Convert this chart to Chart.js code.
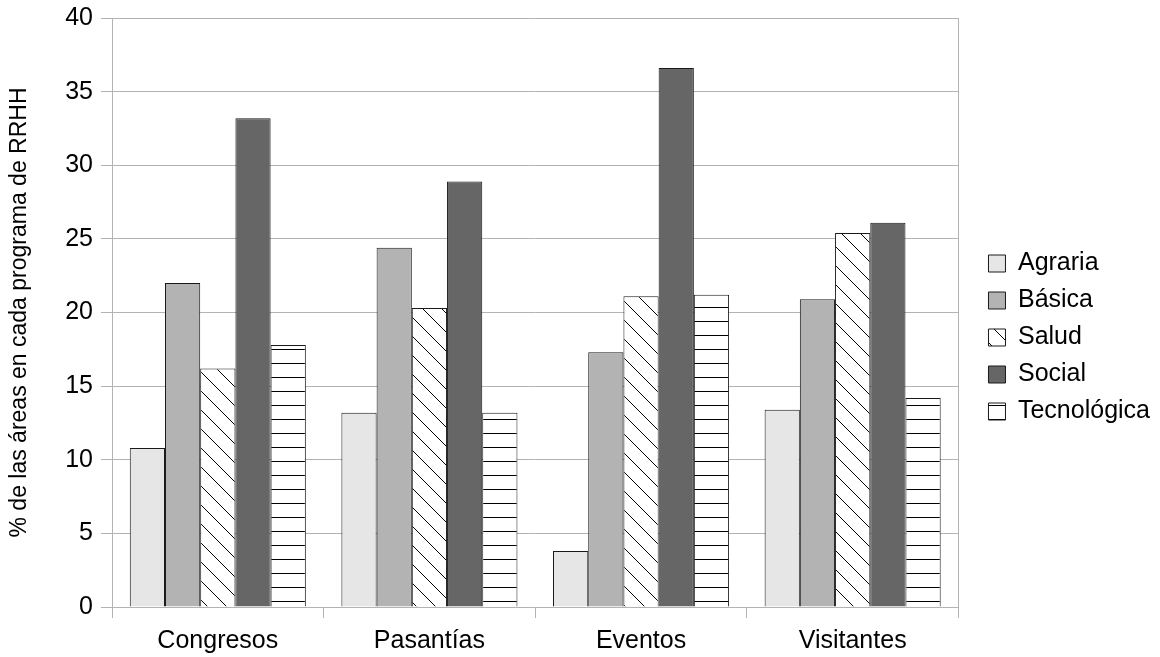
<!DOCTYPE html>
<html>
<head>
<meta charset="utf-8">
<script src="https://cdn.jsdelivr.net/npm/chart.js@4"></script>
<style>
  html, body { margin: 0; padding: 0; background: #fff; }
  #wrap { width: 1160px; height: 657px; }
</style>
</head>
<body>
<div id="wrap"><canvas id="chart" width="1160" height="657"></canvas></div>
<script>
const categories = ["Congresos", "Pasantías", "Eventos", "Visitantes"];
const agraria     = [10.8, 13.2, 3.8, 13.4];
const basica      = [22.0, 24.4, 17.3, 20.9];
const salud       = [16.2, 20.3, 21.1, 25.4];
const social      = [33.2, 28.9, 36.6, 26.1];
const tecnologica = [17.8, 13.2, 21.2, 14.2];
const yTicks = [0, 5, 10, 15, 20, 25, 30, 35, 40];

const FONT = "'Liberation Sans', Arial, sans-serif";
const GRID = "#b3b3b3";

// hatch fills like the LibreOffice ones
function diagHatch() {
  const s = 19, c = document.createElement("canvas");
  c.width = s; c.height = s;
  const g = c.getContext("2d");
  g.fillStyle = "#fff"; g.fillRect(0, 0, s, s);
  g.strokeStyle = "#000"; g.lineWidth = 1;
  g.beginPath();
  g.moveTo(-1, -1); g.lineTo(s + 1, s + 1);
  g.moveTo(-s - 1, -1); g.lineTo(1, s + 1);
  g.moveTo(s - 1, -1 - s); g.lineTo(2 * s + 1, s + 1);
  g.stroke();
  return g.createPattern(c, "repeat");
}
function horizHatch() {
  const s = 14, c = document.createElement("canvas");
  c.width = s; c.height = s;
  const g = c.getContext("2d");
  g.fillStyle = "#fff"; g.fillRect(0, 0, s, s);
  g.strokeStyle = "#000"; g.lineWidth = 1;
  g.beginPath(); g.moveTo(0, s - 0.5); g.lineTo(s, s - 0.5); g.stroke();
  return g.createPattern(c, "repeat");
}

const bar = (label, data, fill) => ({
  label, data, backgroundColor: fill, borderColor: "#1a1a1a", borderWidth: 1,
  categoryPercentage: 0.832, barPercentage: 1,
});

new Chart(document.getElementById("chart"), {
  type: "bar",
  data: {
    labels: categories,
    datasets: [
      bar("Agraria", agraria, "#e6e6e6"),
      bar("Básica", basica, "#b3b3b3"),
      bar("Salud", salud, diagHatch()),
      bar("Social", social, "#666666"),
      bar("Tecnológica", tecnologica, horizHatch()),
    ],
  },
  options: {
    responsive: false, animation: false,
    layout: { padding: { top: 18, right: 0, bottom: 0, left: 0 } },
    plugins: {
      tooltip: { enabled: false },
      legend: {
        position: "right", align: "center",
        labels: { font: { family: FONT, size: 25 }, color: "#000", boxWidth: 17, boxHeight: 17, padding: 12 },
      },
    },
    scales: {
      x: {
        grid: { display: true, drawOnChartArea: false, drawTicks: true, tickLength: 11, color: GRID, offset: true },
        border: { color: GRID },
        ticks: { font: { family: FONT, size: 25 }, color: "#000", padding: 8 },
        afterFit: s => { s.height = 50; s.paddingLeft = 0; s.paddingRight = 0; },
      },
      y: {
        min: 0, max: 40,
        afterBuildTicks: s => { s.ticks = yTicks.map(v => ({ value: v })); },
        grid: { color: GRID, tickLength: 11 },
        border: { color: GRID },
        ticks: { font: { family: FONT, size: 25 }, color: "#000", padding: 8 },
        title: { display: true, text: "% de las áreas en cada programa de RRHH",
                 font: { family: FONT, size: 23 }, color: "#000", padding: { top: 6, bottom: 0 } },
        afterFit: s => { s.width = 112; s.paddingTop = 0; s.paddingBottom = 0; },
      },
      yr: {
        position: "right", min: 0, max: 40,
        grid: { drawOnChartArea: false, drawTicks: false },
        border: { color: GRID },
        ticks: { display: false },
        afterFit: s => { s.width = 18; s.paddingTop = 0; s.paddingBottom = 0; },
      },
    },
  },
});
</script>
</body>
</html>
